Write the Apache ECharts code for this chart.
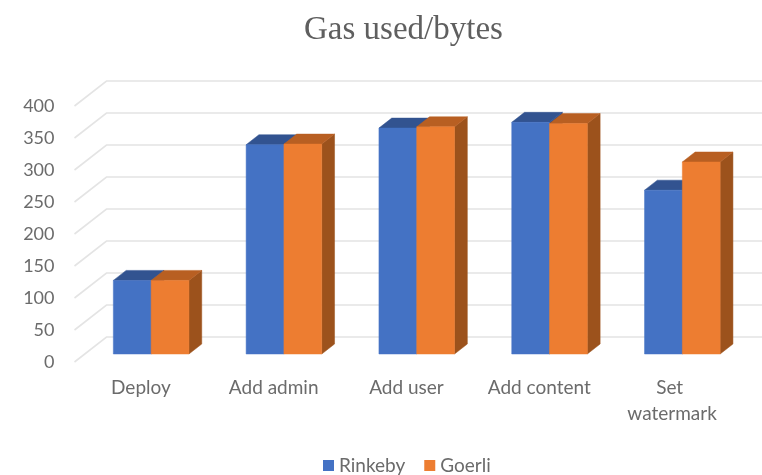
<!DOCTYPE html>
<html>
<head>
<meta charset="utf-8">
<style>html,body{margin:0;padding:0;background:#fff}#c{width:762px;height:475px}</style>
<script src="https://cdn.jsdelivr.net/npm/echarts@6/dist/echarts.min.js"></script>
</head>
<body>
<div id="c"></div>
<script>
const categories = ['Deploy', 'Add admin', 'Add user', 'Add content', 'Set watermark'];
const rinkeby = [115, 327, 353, 362, 256];
const goerli = [115, 328, 355, 360, 300];
const yTicks = [0, 50, 100, 150, 200, 250, 300, 350, 400];

const WALL_DX = 32, WALL_DY = 25;      // depth of the 3D box
const BAR_NEAR = 0.32, BAR_DEPTH = 0.4; // bar position inside that depth
const BAR_WIDTH_FRAC = 37.8 / 132.8;

function bar3d(side, front, top, sideCol) {
  return function (params, api) {
    const i = api.value(0), v = api.value(1);
    const base = api.coord([i, 0]);
    const head = api.coord([i, v]);
    const w = api.size([1, 0])[0] * BAR_WIDTH_FRAC;
    const ox = WALL_DX * BAR_NEAR, oy = WALL_DY * BAR_NEAR;
    const dx = WALL_DX * BAR_DEPTH, dy = WALL_DY * BAR_DEPTH;
    const x0 = base[0] + ox + (side < 0 ? -w : 0), x1 = x0 + w;
    const yb = base[1] - oy, yt = head[1] - oy;
    const poly = (pts, fill) => ({
      type: 'polygon', shape: { points: pts },
      style: { fill: fill, stroke: fill, lineWidth: 0.5 }
    });
    return {
      type: 'group',
      children: [
        poly([[x1, yb], [x1 + dx, yb - dy], [x1 + dx, yt - dy], [x1, yt]], sideCol),
        poly([[x0, yt], [x1, yt], [x1 + dx, yt - dy], [x0 + dx, yt - dy]], top),
        poly([[x0, yb], [x1, yb], [x1, yt], [x0, yt]], front)
      ]
    };
  };
}

function gridLine(params, api) {
  const p = api.coord([0, api.value(1)]);
  const cs = params.coordSys;
  return {
    type: 'polyline',
    shape: { points: [[cs.x, p[1]], [cs.x + WALL_DX, p[1] - WALL_DY], [cs.x + cs.width + WALL_DX, p[1] - WALL_DY]] },
    style: { fill: null, stroke: '#e4e4e4', lineWidth: 1.6 }
  };
}

const chart = echarts.init(document.getElementById('c'), null, { renderer: 'canvas' });
chart.setOption({
  animation: false,
  backgroundColor: '#fff',
  title: {
    text: 'Gas used/bytes', left: 299, top: 9,
    textStyle: { fontFamily: 'Liberation Serif', fontSize: 33, fontWeight: 'normal', color: '#5f5f5f' }
  },
  legend: {
    data: ['Rinkeby', 'Goerli'], left: 318, top: 451, icon: 'rect',
    itemWidth: 11, itemHeight: 11, itemGap: 19,
    textStyle: { fontFamily: 'Lato', fontSize: 19, color: '#6b6b6b' }
  },
  grid: { left: 74.5, width: 664, top: 106, height: 256 },
  xAxis: {
    type: 'category', data: categories,
    axisLine: { show: false }, axisTick: { show: false }, splitLine: { show: false },
    axisLabel: {
      interval: 0, margin: 13, width: 110, overflow: 'break', lineHeight: 26,
      fontFamily: 'Lato', fontSize: 19, color: '#6b6b6b'
    }
  },
  yAxis: {
    type: 'value', min: 0, max: 400, interval: 50,
    axisLine: { show: false }, axisTick: { show: false }, splitLine: { show: false },
    axisLabel: { margin: 20, padding: [4, 0, 0, 0], fontFamily: 'Lato', fontSize: 18, color: '#6b6b6b' }
  },
  series: [
    { type: 'custom', name: 'grid', silent: true, z: 1, renderItem: gridLine,
      encode: { x: 0, y: 1 }, data: yTicks.map(v => [0, v]) },
    { type: 'custom', name: 'Rinkeby', z: 2, itemStyle: { color: '#4472c4' },
      renderItem: bar3d(-1, '#4472c4', '#325390', '#2f4f8a'),
      encode: { x: 0, y: 1 }, data: rinkeby.map((v, i) => [i, v]) },
    { type: 'custom', name: 'Goerli', z: 3, itemStyle: { color: '#ed7d31' },
      renderItem: bar3d(1, '#ed7d31', '#b85f22', '#9c521c'),
      encode: { x: 0, y: 1 }, data: goerli.map((v, i) => [i, v]) }
  ]
});
</script>
</body>
</html>
